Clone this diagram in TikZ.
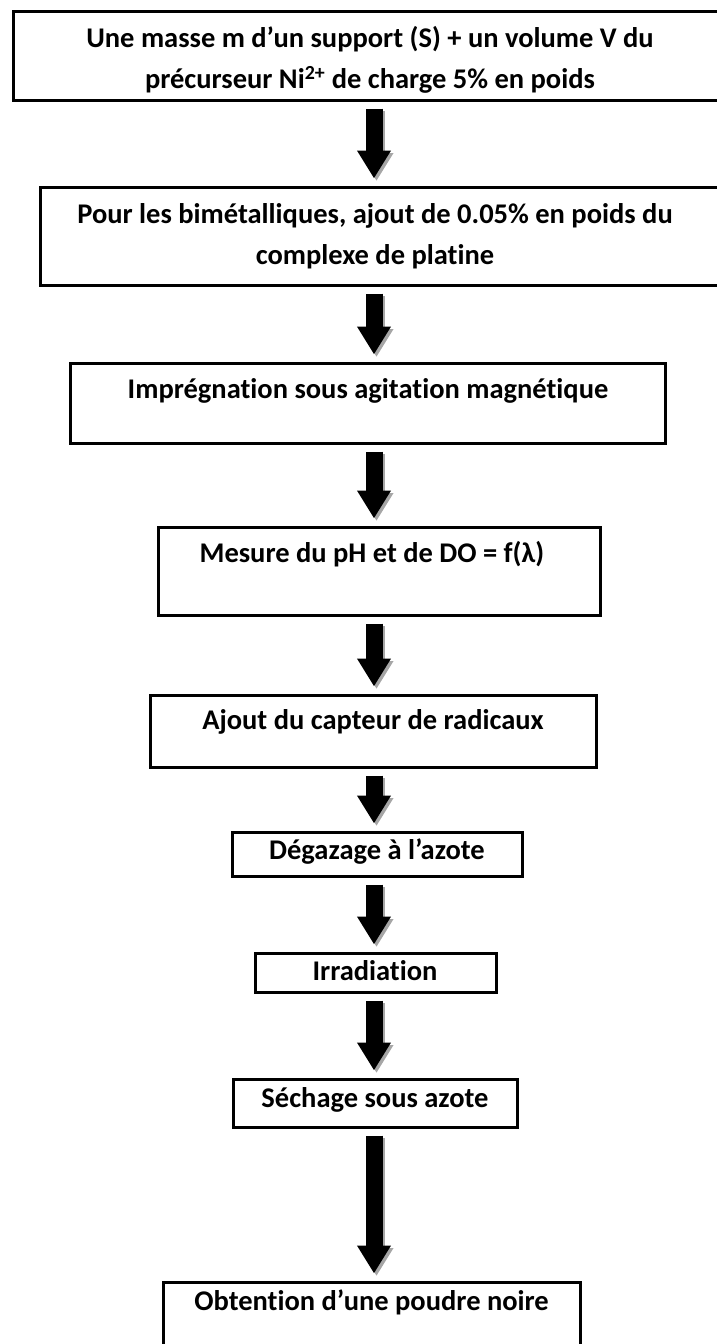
\documentclass[tikz,border=0pt]{standalone}
\usepackage{fontspec}
\setmainfont{Carlito}[Ligatures=NoCommon]
\usetikzlibrary{calc,arrows.meta}
\tikzset{
  stepbox/.style={draw=black, line width=3pt, fill=white, inner sep=0pt},
  steptext/.style={font=\fontsize{28.5}{41}\selectfont\bfseries, align=center, inner sep=0pt},
  bigarrow/.style={line width=17pt, -{Triangle[width=32pt,length=28pt]}},
  shadowarrow/.style={bigarrow, draw=black!35, fill=black!35, transform canvas={shift={(2.5pt,-2.5pt)}}},
}
\begin{document}
\begin{tikzpicture}[x=1pt,y=1pt]
\useasboundingbox (0,0) rectangle (716,-1344);
\coordinate (ax) at (374,0);
% boxes
\node[stepbox, minimum width=727pt, minimum height=89pt] (b1) at (376.5,-55.5) {};
\node[stepbox, minimum width=700pt, minimum height=98pt] (b2) at (390,-236) {};
\node[stepbox, minimum width=595pt, minimum height=80pt] (b3) at (367.5,-403) {};
\node[stepbox, minimum width=442pt, minimum height=88pt] (b4) at (379,-571) {};
\node[stepbox, minimum width=446pt, minimum height=72pt] (b5) at (373,-731) {};
\node[stepbox, minimum width=290pt, minimum height=44pt] (b6) at (377,-854) {};
\node[stepbox, minimum width=241pt, minimum height=39pt] (b7) at (375.5,-972.5) {};
\node[stepbox, minimum width=284pt, minimum height=48pt] (b8) at (375,-1103) {};
\node[stepbox, minimum width=417pt, minimum height=78pt] (b9) at (371.5,-1321) {};
% texts
\node[steptext] (t1) at (370,-60) {Une masse m d’un support (S) + un volume V du\\précurseur Ni\textsuperscript{2+} de charge 5\% en poids};
\node[steptext] (t2) at (375,-236) {Pour les bimétalliques, ajout de 0.05\% en poids du\\complexe de platine};
\node[steptext] (t3) at (368,-391) {Imprégnation sous agitation magnétique};
\node[steptext] (t4) at (372,-554) {Mesure du pH et de DO = f(λ)};
\node[steptext] (t5) at (373,-722) {Ajout du capteur de radicaux};
\node[steptext] (t6) at (377,-852) {Dégazage à l’azote};
\node[steptext] (t7) at (375,-971) {Irradiation};
\node[steptext] (t8) at (375,-1100) {Séchage sous azote};
\node[steptext] (t9) at (371.5,-1302) {Obtention d’une poudre noire};
% arrows
\foreach \a/\b in {b1/b2,b2/b3,b3/b4,b4/b5,b5/b6,b6/b7,b7/b8,b8/b9}{
  \draw[shadowarrow] ($(\a.south -| ax)+(0,-7)$) -- ($(\b.north -| ax)+(0,7)$);
  \draw[bigarrow] ($(\a.south -| ax)+(0,-7)$) -- ($(\b.north -| ax)+(0,7)$);
}
\end{tikzpicture}
\end{document}
